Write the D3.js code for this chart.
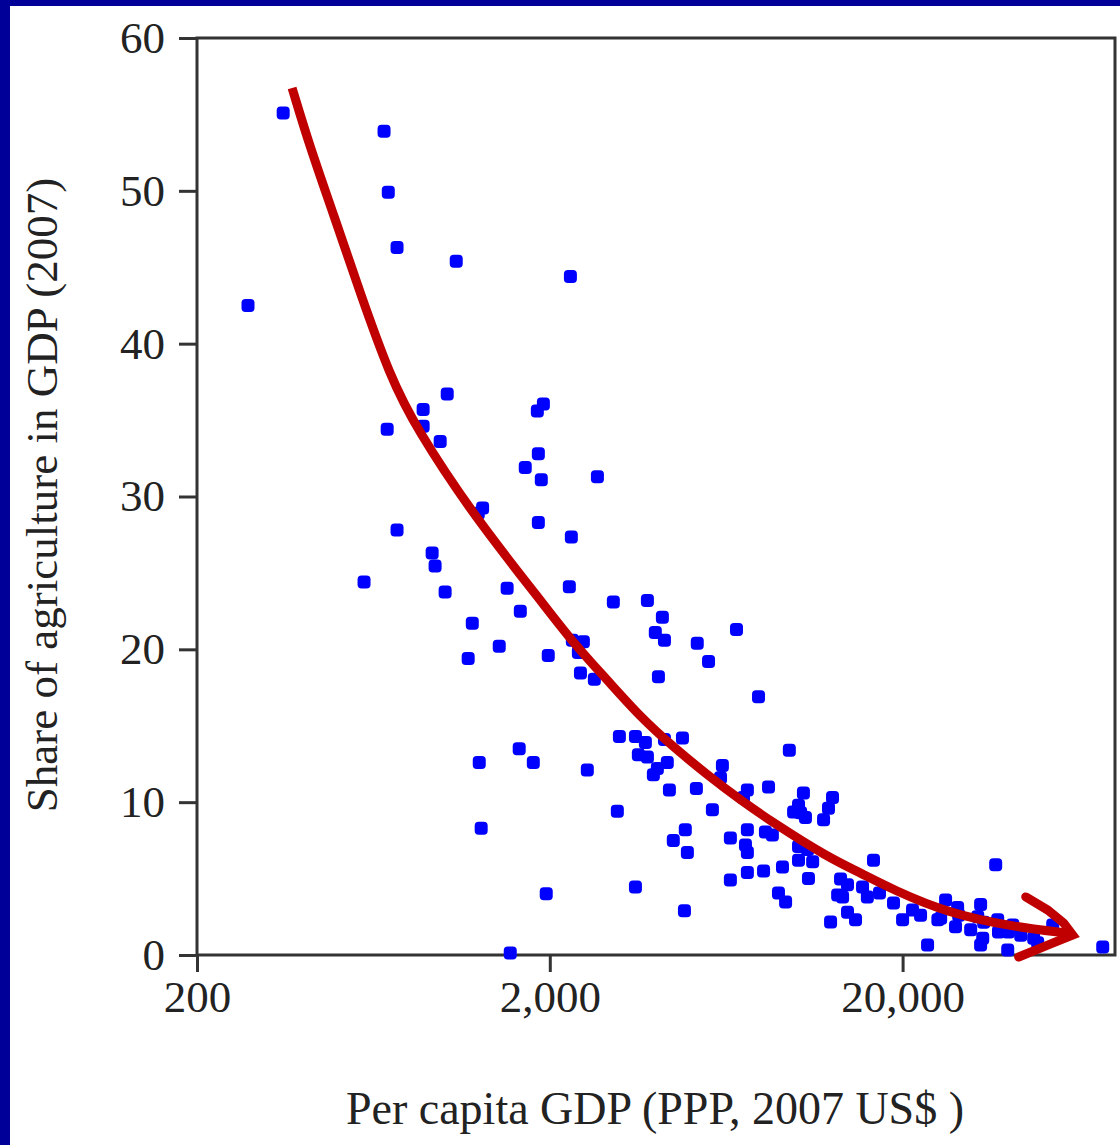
<!DOCTYPE html>
<html><head><meta charset="utf-8">
<script src="https://cdn.jsdelivr.net/npm/d3@7"></script>
<style>body{margin:0;background:#fff;overflow:hidden}</style>
</head><body>
<svg id="c" width="1120" height="1145"></svg>
<script>
// Per capita GDP (PPP, 2007 US$)
const gdp = [351,678,697,738,1086,279,1024,875,692,875,
978,1918,1844,1856,1704,1892,2729,1254,1290,1856,
2302,738,928,946,595,1010,1514,2272,3028,1650,
1206,1438,1174,1980,2317,2490,2410,2443,2675,3782,
4170,3982,4227,5236,6764,5636,4064,7810,1638,1262,
1796,2555,3150,3498,3732,3565,3782,4227,4754,4306,
4036,3932,6170,6095,4366,5206,7262,7080,8337,3108,
5780,4843,4478,4909,6500,7262,7172,7262,8170,8550,
6500,7262,8071,9132,8896,3498,4816,9550,10470,12660,
10140,10280,10610,9820,12330,11940,10140,10760,10140,11120,
10820,16540,13340,13960,13090,13520,9320,15400,15890,17200,
12500,13960,14710,18850,20000,21340,22490,25180,23540,36720,
26480,25640,28640,28840,28250,31190,33280,32660,33950,33740,
33280,37200,37400,39900,41040,43240,39720,47050,48300,53280,
73840,1954,1545,1278,2288];
// Share of agriculture in GDP (%), 2007
const share = [55.1,53.9,49.9,46.3,45.4,42.5,36.7,35.7,34.4,34.6,
33.6,36.05,35.6,32.8,31.9,31.1,31.3,28.9,29.25,28.3,
27.35,27.8,26.3,25.45,24.4,23.75,24.0,24.1,23.1,22.5,
21.7,20.2,19.4,19.6,20.6,20.5,19.8,18.45,18.05,23.2,
22.1,21.1,20.6,20.4,21.3,19.2,18.2,16.9,13.5,12.6,
12.6,12.1,14.3,14.3,13.9,13.1,12.95,14.1,14.2,12.6,
12.2,11.8,12.4,11.6,10.8,10.9,10.8,10.3,11.0,9.4,
9.5,8.2,7.5,6.7,7.65,8.2,7.2,6.7,8.05,7.85,
4.9,5.4,5.5,5.75,4.05,4.45,2.9,13.4,10.6,10.3,
9.8,9.3,9.0,9.35,9.6,8.85,7.1,6.9,6.2,6.1,
5.0,6.2,4.97,4.6,3.93,3.8,3.47,4.45,3.8,4.06,
2.16,2.8,2.3,3.4,2.3,2.95,2.6,2.3,0.65,5.9,
3.6,2.4,3.1,2.6,1.85,1.65,3.3,2.5,2.15,1.1,
0.65,2.3,1.5,1.5,1.96,1.3,0.33,1.1,0.8,1.96,
0.52,4.0,0.13,8.3,44.4];

const xTicks = [200, 2000, 20000];
const xTickLabels = ["200", "2,000", "20,000"];
const yTicks = [0, 10, 20, 30, 40, 50, 60];
const xTitle = "Per capita GDP (PPP, 2007 US$ )";
const yTitle = "Share of agriculture in GDP (2007)";

// hand-drawn trend arrow (annotation), in data units [gdp, share]
const arrowCurve = [[372,56.73],[418,52.87],[486,48.55],[580,43.32],[706,37.82],[836,34.48],
[1213,28.79],[1880,23.23],[2332,20.41],[2912,17.99],[3612,15.57],[4480,13.61],[5596,11.78],
[6940,10.14],[8610,8.64],[12250,6.41],[15200,5.37],[18860,4.25],[26840,2.75],[41300,1.83],
[58760,1.44],[60700,1.37]];
const arrowHeadTop = [[44680,3.80],[51560,2.94],[57250,2.09],[60700,1.31]];
const arrowHeadBottom = [[60700,1.31],[51560,0.65],[42660,-0.13]];

const svg = d3.select("#c");
const FONT = "'Liberation Serif','DejaVu Serif',serif";

// navy frame of the slide
svg.append("rect").attr("x",0).attr("y",0).attr("width",1120).attr("height",1145).attr("fill","#fff");
svg.append("rect").attr("x",0).attr("y",0).attr("width",10).attr("height",1145).attr("fill","#000099");
svg.append("rect").attr("x",0).attr("y",0).attr("width",1120).attr("height",6).attr("fill","#000099");

const x = d3.scaleLog().domain([200, 80000]).range([197, 1115]);
const y = d3.scaleLinear().domain([0, 60]).range([955, 38]);

// plot frame
svg.append("rect").attr("x",197).attr("y",38).attr("width",918).attr("height",917)
  .attr("fill","none").attr("stroke","#333").attr("stroke-width",3);

const yAxis = svg.append("g").attr("transform","translate(197,0)")
  .call(d3.axisLeft(y).tickValues(yTicks).tickSize(18).tickPadding(14).tickFormat(d3.format("d")));
const xAxis = svg.append("g").attr("transform","translate(0,955)")
  .call(d3.axisBottom(x).tickValues(xTicks).tickSize(17).tickPadding(8).tickFormat((d,i)=>xTickLabels[i]));
[yAxis, xAxis].forEach(g => {
  g.select(".domain").remove();
  g.selectAll(".tick line").attr("stroke","#333").attr("stroke-width",3);
  g.selectAll(".tick text").attr("fill","#222").style("font-family",FONT).style("font-size","45px");
});

// points
svg.append("g").selectAll("rect").data(d3.range(gdp.length)).join("rect")
  .attr("x", i => x(gdp[i]) - 6.5).attr("y", i => y(share[i]) - 6.5)
  .attr("width", 13).attr("height", 13).attr("rx", 4)
  .attr("fill", "#0000ff");

// arrow
svg.append("path").attr("d", d3.line().x(d => x(d[0])).y(d => y(d[1])).curve(d3.curveBasis)(arrowCurve))
  .attr("fill","none").attr("stroke","#c00000").attr("stroke-width",9);
svg.append("path").attr("d", d3.line().x(d => x(d[0])).y(d => y(d[1])).curve(d3.curveLinear)(arrowHeadTop.concat(arrowHeadBottom.slice(1))))
  .attr("fill","none").attr("stroke","#c00000").attr("stroke-width",9)
  .attr("stroke-linejoin","miter").attr("stroke-linecap","round");

// titles
svg.append("text").attr("x",655).attr("y",1124).attr("text-anchor","middle")
  .style("font-family",FONT).style("font-size","46px").attr("fill","#222").text(xTitle);
svg.append("text").attr("transform","translate(57,495) rotate(-90)").attr("text-anchor","middle")
  .style("font-family",FONT).style("font-size","45px").attr("fill","#222").text(yTitle);
</script>
</body></html>
